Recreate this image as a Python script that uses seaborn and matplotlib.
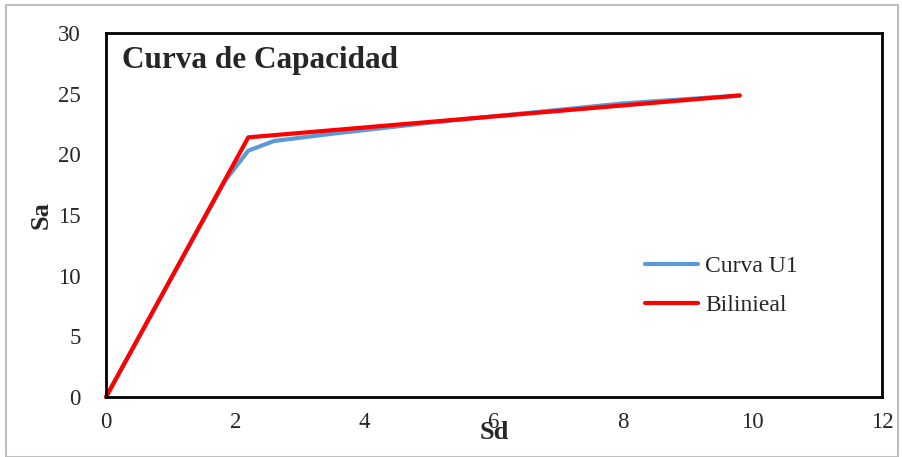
import pandas as pd
import matplotlib.pyplot as plt
import seaborn as sns
from matplotlib.patches import Rectangle

# Capacity curve values
sd_curva = [0.0, 1.85, 2.2, 2.6, 3.5, 5.0, 6.5, 8.0, 9.8]
sa_curva = [0.0, 17.9, 20.3, 21.1, 21.7, 22.6, 23.4, 24.2, 24.85]

sd_bilineal = [0.0, 2.2, 9.8]
sa_bilineal = [0.0, 21.4, 24.85]

x_ticks = [0, 2, 4, 6, 8, 10, 12]
y_ticks = [0, 5, 10, 15, 20, 25, 30]

df = pd.concat([
    pd.DataFrame({'Sd': sd_curva, 'Sa': sa_curva, 'serie': 'Curva U1'}),
    pd.DataFrame({'Sd': sd_bilineal, 'Sa': sa_bilineal, 'serie': 'Bilinieal'}),
])

sns.set_style('white')
plt.rcParams['font.family'] = ['Liberation Serif', 'DejaVu Serif']

fig = plt.figure(figsize=(9.02, 4.57), dpi=100)
ax = fig.add_axes([106 / 902, 1 - 397 / 457, 776 / 902, 364 / 457])

sns.lineplot(data=df, x='Sd', y='Sa', hue='serie', sort=False,
             palette={'Curva U1': '#5b9bd5', 'Bilinieal': '#ff0000'},
             linewidth=3, ax=ax, clip_on=False)

ax.set_xlim(0, 12)
ax.set_ylim(0, 30)
ax.set_xticks(x_ticks)
ax.set_yticks(y_ticks)
ax.tick_params(axis='both', labelsize=16.5, length=0)
ax.tick_params(axis='x', pad=11)
ax.tick_params(axis='y', pad=18)

for s in ax.spines.values():
    s.set_color('black')
    s.set_linewidth(2)

ax.set_xlabel('Sd', fontsize=19, fontweight='bold', labelpad=-9)
ax.set_ylabel('Sa', fontsize=19, fontweight='bold', labelpad=4)

ax.text(0.021, 0.925, 'Curva de Capacidad', transform=ax.transAxes,
        fontsize=22.5, fontweight='bold', va='center', ha='left')

leg = ax.legend(loc='center left', bbox_to_anchor=(0.667, 0.305),
                frameon=False, fontsize=17, handlelength=2.25,
                handletextpad=0.3, labelspacing=0.75)
for line in leg.get_lines():
    line.set_linewidth(3)

# light outer frame of the chart
fig.patches.append(Rectangle((6 / 902, 0), 892 / 902, 1 - 5 / 457,
                             transform=fig.transFigure, fill=False,
                             edgecolor='#bfbfbf', linewidth=1.5))

plt.savefig('out.png', dpi=100)
